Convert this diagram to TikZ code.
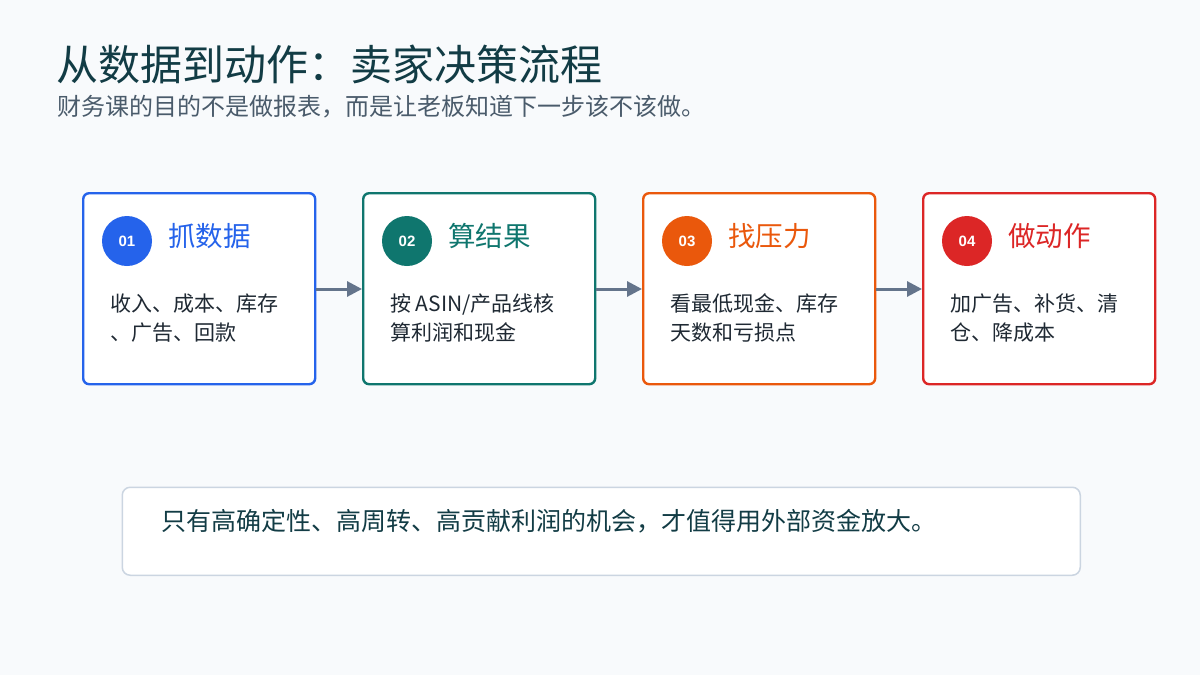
\documentclass[tikz,border=0pt]{standalone}
\usepackage{fontspec}
\setmainfont{Noto Sans CJK SC}
\newfontfamily\numfont{Liberation Sans}
\usetikzlibrary{arrows.meta}
\definecolor{bgc}{HTML}{F8FAFC}
\definecolor{titlec}{HTML}{123C45}
\definecolor{subc}{HTML}{4A5B6B}
\definecolor{bodyc}{HTML}{1F2933}
\definecolor{arrowc}{HTML}{64748B}
\definecolor{cblue}{HTML}{2563EB}
\definecolor{cteal}{HTML}{0F766E}
\definecolor{corange}{HTML}{EA580C}
\definecolor{cred}{HTML}{DC2626}
\definecolor{notec}{HTML}{CBD5E1}
\tikzset{
  stepbox/.style={draw=#1, line width=2.4pt, fill=white, rounded corners=6pt, minimum width=232pt, minimum height=191pt, inner sep=0pt, anchor=north west},
  numdot/.style={circle, fill=#1, minimum size=50pt, inner sep=0pt, text=white, font=\numfont\bfseries\fontsize{15}{15}\selectfont},
  steptitle/.style={text=#1, anchor=west, inner sep=0pt, font=\fontsize{27.5}{27.5}\selectfont},
  bodytext/.style={text=bodyc, anchor=west, inner sep=0pt, align=left, font=\fontsize{21}{29}\selectfont},
  flow/.style={draw=arrowc, line width=3pt, -{Triangle[length=15pt,width=15pt]}}
}
\begin{document}
\begin{tikzpicture}[x=1pt,y=-1pt]
\fill[bgc] (0,0) rectangle (1200,675);
\useasboundingbox (0,0) rectangle (1200,675);
\node[anchor=west, inner sep=0pt, text=titlec, font=\fontsize{42}{42}\selectfont] (title) at (56,64) {从数据到动作：卖家决策流程};
\node[anchor=west, inner sep=0pt, text=subc, font=\fontsize{24}{24}\selectfont] (sub) at (57,107) {财务课的目的不是做报表，而是让老板知道下一步该不该做。};

\node[stepbox=cblue] (b1) at (82,192) {};
\node[stepbox=cteal] (b2) at (362,192) {};
\node[stepbox=corange] (b3) at (642,192) {};
\node[stepbox=cred] (b4) at (922,192) {};

\node[numdot=cblue] (n1) at (127,241) {01};
\node[numdot=cteal] (n2) at (407,241) {02};
\node[numdot=corange] (n3) at (687,241) {03};
\node[numdot=cred] (n4) at (967,241) {04};

\node[steptitle=cblue] (t1) at (168,236) {抓数据};
\node[steptitle=cteal] (t2) at (448,236) {算结果};
\node[steptitle=corange] (t3) at (728,236) {找压力};
\node[steptitle=cred] (t4) at (1008,236) {做动作};

\node[bodytext] (d1) at (110,318) {收入、成本、库存\\、广告、回款};
\node[bodytext] (d2) at (390,318) {按 ASIN/产品线核\\算利润和现金};
\node[bodytext] (d3) at (670,318) {看最低现金、库存\\天数和亏损点};
\node[bodytext] (d4) at (950,318) {加广告、补货、清\\仓、降成本};

\draw[flow] (b1.east |- 0,289) -- (b2.west |- 0,289);
\draw[flow] (b2.east |- 0,289) -- (b3.west |- 0,289);
\draw[flow] (b3.east |- 0,289) -- (b4.west |- 0,289);

\node[draw=notec, line width=1.5pt, fill=white, rounded corners=8pt, minimum width=958pt, minimum height=88pt, anchor=north west, inner sep=0pt] (note) at (121.5,486.5) {};
\node[anchor=west, inner sep=0pt, text=titlec, font=\fontsize{25}{25}\selectfont] (notetext) at (161,521) {只有高确定性、高周转、高贡献利润的机会，才值得用外部资金放大。};
\end{tikzpicture}
\end{document}
